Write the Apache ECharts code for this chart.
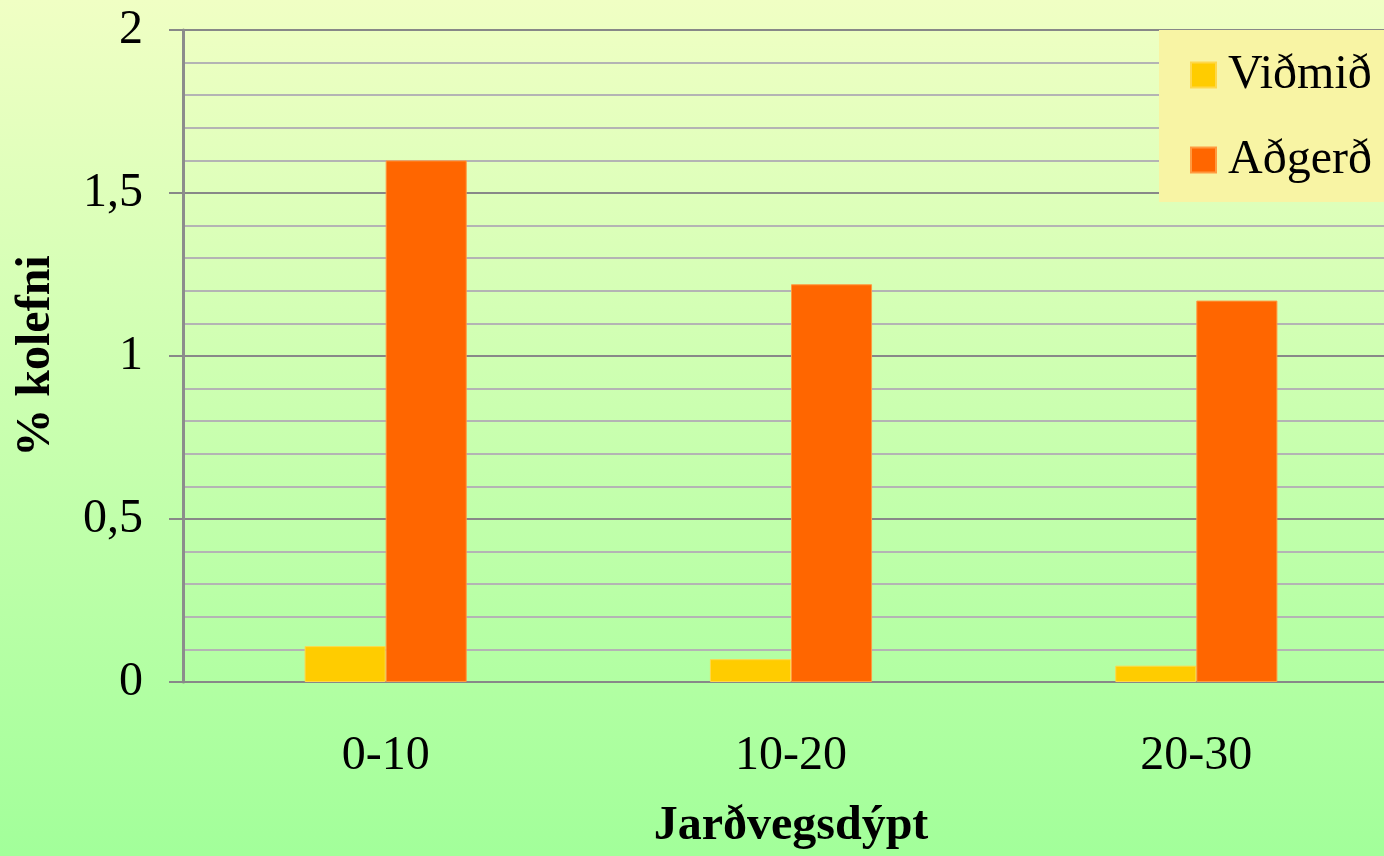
<!DOCTYPE html>
<html>
<head>
<meta charset="utf-8">
<script src="https://cdn.jsdelivr.net/npm/echarts@6/dist/echarts.min.js"></script>
<style>
  html, body { margin: 0; padding: 0; overflow: hidden; width: 1384px; height: 856px; }
  /* canvas is a bit wider than the window so the plot runs off the right edge */
  #chart { width: 1399px; height: 856px; }
</style>
</head>
<body>
<div id="chart"></div>
<script>
// Soil depth classes (cm)
const categories = ['0-10', '10-20', '20-30'];
// Carbon content, % kolefni
const vidmid = [0.11, 0.07, 0.05];
const adgerd = [1.6, 1.22, 1.17];
const seriesNames = ['Viðmið', 'Aðgerð'];
const yTicks = { min: 0, max: 2, interval: 0.5 };

const FONT = '"Liberation Serif", "DejaVu Serif", serif';

const chart = echarts.init(document.getElementById('chart'));
chart.setOption({
  backgroundColor: new echarts.graphic.LinearGradient(0, 0, 0, 1, [
    { offset: 0, color: '#f0ffc4' },
    { offset: 1, color: '#a2ff9a' }
  ]),
  animation: false,
  grid: { left: 183, top: 30, right: 0, bottom: 172, containLabel: false },
  legend: {
    data: seriesNames,
    orient: 'vertical',
    left: 1159,
    top: 30,
    padding: [21, 40, 18, 31],
    itemGap: 37,
    itemWidth: 25,
    itemHeight: 25,
    icon: 'rect',
    backgroundColor: '#f8f4a4',
    textStyle: { fontFamily: FONT, fontSize: 48, lineHeight: 46, color: '#000', padding: [0, 0, 0, 7] }
  },
  xAxis: {
    type: 'category',
    data: categories,
    name: 'Jarðvegsdýpt',
    nameLocation: 'middle',
    nameGap: 121,
    nameTextStyle: { fontFamily: FONT, fontSize: 48, fontWeight: 'bold', color: '#000', lineHeight: 48 },
    axisLine: { show: true, lineStyle: { color: '#888', width: 2 } },
    axisTick: { show: false },
    axisLabel: { fontFamily: FONT, fontSize: 48, color: '#000', margin: 51, lineHeight: 46 }
  },
  yAxis: {
    type: 'value',
    min: yTicks.min,
    max: yTicks.max,
    interval: yTicks.interval,
    name: '% kolefni',
    nameLocation: 'middle',
    nameGap: 122,
    nameTextStyle: { fontFamily: FONT, fontSize: 48, fontWeight: 'bold', color: '#000', lineHeight: 48 },
    axisLine: { show: true, lineStyle: { color: '#8c8c8c', width: 3 } },
    axisTick: { show: true, length: 14, lineStyle: { color: '#888', width: 2 } },
    minorTick: { show: false, splitNumber: 5 },
    axisLabel: {
      fontFamily: FONT, fontSize: 48, color: '#000', margin: 40,
      formatter: v => String(v).replace('.', ',')
    },
    splitLine: { show: true, lineStyle: { color: '#888', width: 2 } },
    minorSplitLine: { show: true, lineStyle: { color: '#b4b4b4', width: 2 } }
  },
  series: [
    {
      name: seriesNames[0],
      type: 'bar',
      data: vidmid,
      barWidth: '20%',
      barGap: '0%',
      itemStyle: { color: '#ffcc00', borderColor: '#ffd84a', borderWidth: 1 }
    },
    {
      name: seriesNames[1],
      type: 'bar',
      data: adgerd,
      barWidth: '20%',
      barGap: '0%',
      itemStyle: { color: '#ff6600', borderColor: '#ff9a40', borderWidth: 1 }
    }
  ]
});
</script>
</body>
</html>
